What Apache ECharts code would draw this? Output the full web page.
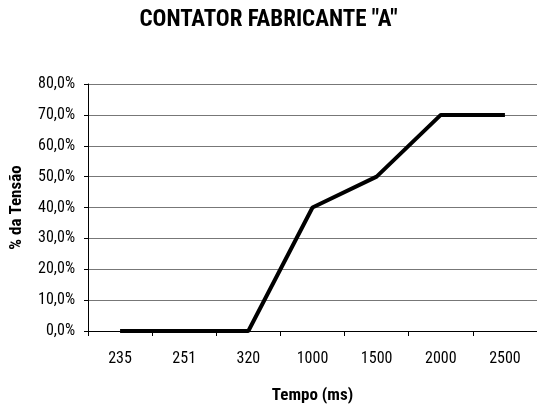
<!DOCTYPE html>
<html><head><meta charset="utf-8">
<script src="https://cdn.jsdelivr.net/npm/echarts@6/dist/echarts.min.js"></script>
<style>html,body{margin:0;padding:0;background:#fff}#c{width:537px;height:409px}</style>
</head><body><div id="c"></div>
<script>
var titleText = 'CONTATOR FABRICANTE "A"';
var categories = ['235','251','320','1000','1500','2000','2500'];
var values = [0, 0, 0, 40, 50, 70, 70];
var yName = '% da Tensão';
var xName = 'Tempo (ms)';
var font = '"Roboto Condensed", "Liberation Sans", Arial, sans-serif';
var chart = echarts.init(document.getElementById('c'), null, {renderer:'canvas'});
chart.setOption({
  animation: false,
  backgroundColor: '#fff',
  title: {text: titleText, left: 'center', top: 4, padding: [5, 11, 5, 0],
    textStyle: {fontFamily: font, fontWeight: 'bold', fontSize: 23, color: '#000'}},
  grid: {left: 86, right: 0, top: 84, bottom: 76, containLabel: false},
  xAxis: {type: 'category', data: categories, boundaryGap: true,
    name: xName, nameLocation: 'middle', nameGap: 56,
    nameTextStyle: {fontFamily: font, fontWeight: 'bold', fontSize: 17, color: '#000'},
    axisLine: {lineStyle: {color: '#000', width: 1}},
    axisTick: {show: true, length: 5, lineStyle: {color: '#000'}},
    axisLabel: {fontFamily: font, fontSize: 16, color: '#000', margin: 20}},
  yAxis: {type: 'value', min: 0, max: 80, interval: 10,
    name: yName, nameLocation: 'middle', nameGap: 63, nameRotate: 90,
    nameTextStyle: {fontFamily: font, fontWeight: 'bold', fontSize: 17, color: '#000'},
    axisLine: {show: true, lineStyle: {color: '#000', width: 1}},
    axisTick: {show: true, length: 4, lineStyle: {color: '#000'}},
    axisLabel: {fontFamily: font, fontSize: 16, color: '#000', margin: 13,
      formatter: function(v){ return v.toFixed(1).replace('.', ',') + '%'; }},
    splitLine: {show: true, lineStyle: {color: '#777', width: 1}}},
  series: [{type: 'line', data: values, symbol: 'none',
    lineStyle: {color: '#000', width: 4}, z: 3}]
});
</script></body></html>
